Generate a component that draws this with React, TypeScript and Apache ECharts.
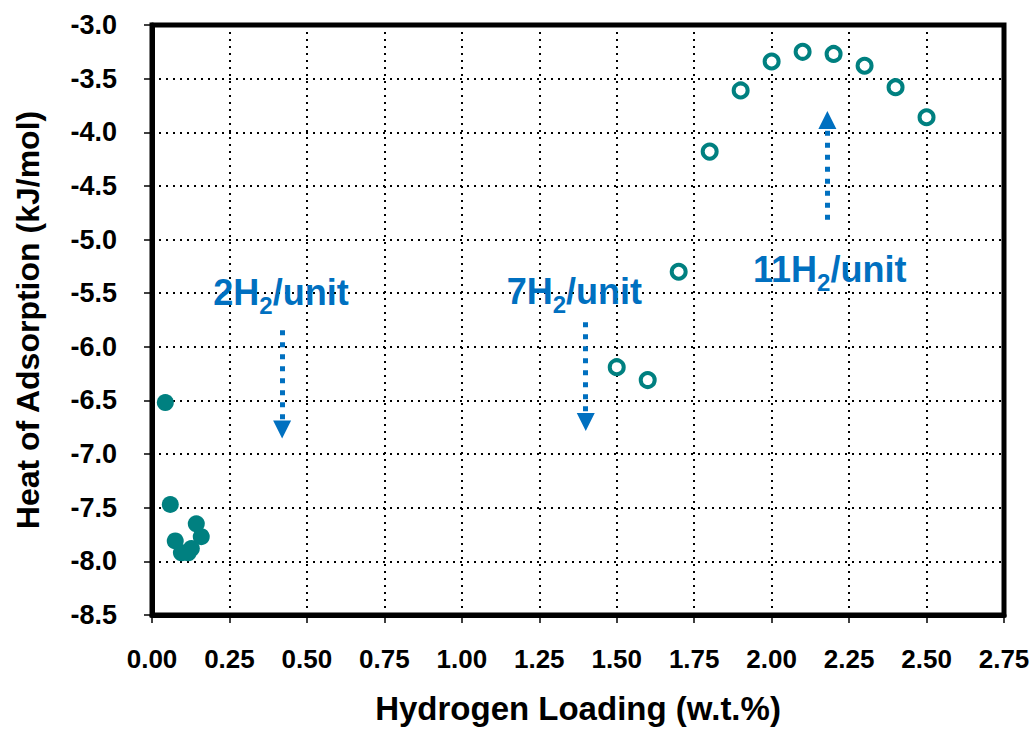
import React, { useEffect, useRef } from "react";
import * as echarts from "echarts";

// Filled markers (low loading region)
const filledX = [0.043, 0.059, 0.075, 0.095, 0.117, 0.127, 0.143, 0.159];
const filledY = [-6.52, -7.47, -7.81, -7.92, -7.92, -7.88, -7.65, -7.77];

// Open markers (high loading region)
const openX = [1.5, 1.6, 1.7, 1.8, 1.9, 2.0, 2.1, 2.2, 2.3, 2.4, 2.5];
const openY = [-6.19, -6.31, -5.3, -4.18, -3.61, -3.34, -3.25, -3.27, -3.38, -3.58, -3.86];

// Annotation labels: [x, y, leading text, subscript, trailing text]
const noteLabels: [number, number, string, string, string][] = [
  [0.198, -5.46, "2H", "2", "/unit"],
  [1.145, -5.45, "7H", "2", "/unit"],
  [1.94, -5.24, "11H", "2", "/unit"],
];

// Annotation arrows: [x, yStart, yEnd]
const noteArrows: [number, number, number][] = [
  [0.42, -5.845, -6.77],
  [1.4, -5.77, -6.7],
  [2.18, -4.816, -3.885],
];

const X_MIN = 0;
const X_MAX = 2.75;
const X_STEP = 0.25;
const Y_MIN = -8.5;
const Y_MAX = -3.0;
const Y_STEP = 0.5;

const TEAL = "#008080";
const BLUE = "#0070C0";
const FONT = "'Liberation Sans', Arial, Helvetica, sans-serif";

export default function App() {
  const ref = useRef<HTMLDivElement>(null);

  useEffect(() => {
    if (!ref.current) return;
    const chart = echarts.init(ref.current, null, { renderer: "svg" });

    const splitLine = {
      show: true,
      lineStyle: { color: "#000", width: 2, type: [2, 5] as number[] },
    };

    chart.setOption({
      animation: false,
      backgroundColor: "#fff",
      grid: {
        left: 152,
        right: 32,
        top: 25,
        bottom: 109,
        show: true,
        borderColor: "#000",
        borderWidth: 5,
        backgroundColor: "transparent",
      },
      xAxis: {
        type: "value",
        min: X_MIN,
        max: X_MAX,
        interval: X_STEP,
        name: "Hydrogen Loading (w.t.%)",
        nameLocation: "middle",
        nameGap: 77,
        nameTextStyle: {
          fontFamily: FONT,
          fontWeight: "bold",
          fontSize: 33,
          color: "#000",
        },
        axisLine: { show: true, onZero: false, lineStyle: { color: "#000", width: 5 } },
        axisTick: { show: true, inside: false, length: 8, lineStyle: { color: "#000", width: 1.5 } },
        axisLabel: {
          show: true,
          interval: 0,
          margin: 31,
          fontFamily: FONT,
          fontWeight: "bold",
          fontSize: 26,
          color: "#000",
          showMinLabel: true,
          showMaxLabel: true,
          formatter: (v: number) => v.toFixed(2),
        },
        splitLine,
      },
      yAxis: {
        type: "value",
        min: Y_MIN,
        max: Y_MAX,
        interval: Y_STEP,
        name: "Heat of Adsorption (kJ/mol)",
        nameLocation: "middle",
        nameGap: 108,
        nameRotate: 90,
        nameTextStyle: {
          fontFamily: FONT,
          fontWeight: "bold",
          fontSize: 32,
          color: "#000",
        },
        axisLine: { show: true, onZero: false, lineStyle: { color: "#000", width: 5 } },
        axisTick: { show: true, inside: false, length: 8, lineStyle: { color: "#000", width: 1.5 } },
        axisLabel: {
          show: true,
          interval: 0,
          margin: 35,
          fontFamily: FONT,
          fontWeight: "bold",
          fontSize: 27,
          color: "#000",
          showMinLabel: true,
          showMaxLabel: true,
          formatter: (v: number) => v.toFixed(1),
        },
        splitLine,
      },
      series: [
        {
          name: "arrows",
          type: "scatter",
          data: [],
          silent: true,
          markLine: {
            silent: true,
            symbol: ["none", "triangle"],
            symbolSize: [18, 18],
            label: { show: false },
            lineStyle: { color: BLUE, width: 5, type: [5, 7], cap: "butt", opacity: 1 },
            itemStyle: { color: BLUE, opacity: 1 },
            data: noteArrows.map(([x, y0, y1]) => [
              { coord: [x, y0] },
              { coord: [x, y1] },
            ]),
          },
        },
        {
          name: "filled",
          type: "scatter",
          symbol: "circle",
          symbolSize: 17,
          itemStyle: { color: TEAL, opacity: 1 },
          data: filledX.map((x, i) => [x, filledY[i]]),
          z: 3,
        },
        {
          name: "open",
          type: "scatter",
          symbol: "circle",
          symbolSize: 14,
          itemStyle: { color: "#fff", borderColor: TEAL, borderWidth: 4, opacity: 1 },
          data: openX.map((x, i) => [x, openY[i]]),
          z: 3,
        },
        {
          name: "labels",
          type: "scatter",
          symbolSize: 0,
          silent: true,
          itemStyle: { color: BLUE, opacity: 1 },
          data: noteLabels.map(([x, y, a, s, b]) => ({
            value: [x, y],
            a,
            s,
            b,
          })),
          label: {
            show: true,
            position: "right",
            distance: 0,
            offset: [0, 4],
            opacity: 1,
            formatter: (p: any) => {
              const d = p.data;
              return `{a|${d.a}}{s|${d.s}}{a|${d.b}}`;
            },
            rich: {
              a: {
                fontFamily: FONT,
                fontWeight: "bold",
                fontSize: 36,
                lineHeight: 36,
                verticalAlign: "top",
                color: BLUE,
                opacity: 1,
              },
              s: {
                fontFamily: FONT,
                fontWeight: "bold",
                fontSize: 24,
                lineHeight: 24,
                padding: [19, 0, 0, 0],
                verticalAlign: "top",
                color: BLUE,
                opacity: 1,
              },
            },
          },
          z: 4,
        },
      ],
    });

    return () => {
      chart.dispose();
    };
  }, []);

  return (
    <div
      ref={ref}
      style={{ position: "fixed", left: 0, top: 0, width: 1036, height: 730, background: "#fff" }}
    />
  );
}
